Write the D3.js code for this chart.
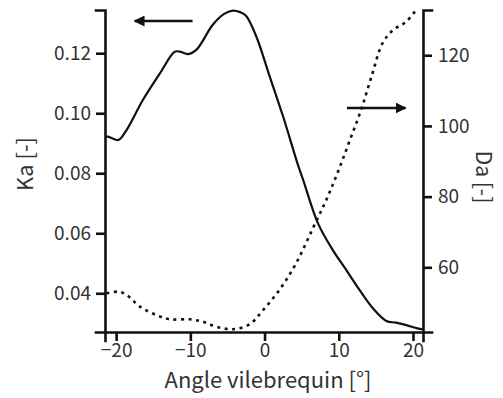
<!DOCTYPE html>
<html>
<head>
<meta charset="utf-8">
<script src="https://cdn.jsdelivr.net/npm/d3@7"></script>
<style>
  body { margin: 0; background: #fff; }
  svg text { font-family: "Noto Sans CJK JP", "Noto Sans", sans-serif; fill: #333; }
  .axis path, .axis line { stroke: #111; stroke-width: 2.6px; }
</style>
</head>
<body>
<div id="chart"></div>
<script>
// crank angle [deg]
const kaAngle = [-21.5, -21.1, -19.7, -18.6, -16.4, -14.1, -12.1, -11.4, -10.3, -9.2, -7.0, -5.5, -4.3, -3.3, -2.5, -1.1, 0.7, 2.5, 4.5, 5.2, 7.2, 9.2, 11.0, 12.8, 14.6, 16.4, 17.7, 19.1, 20.6, 21.3];
const kaValue = [0.0922, 0.0922, 0.0911, 0.0944, 0.1044, 0.1133, 0.1205, 0.1205, 0.1197, 0.1211, 0.1294, 0.1330, 0.1342, 0.1337, 0.1325, 0.1255, 0.1122, 0.0989, 0.0828, 0.0778, 0.0633, 0.0544, 0.0478, 0.0411, 0.0350, 0.0308, 0.0302, 0.0294, 0.0283, 0.0280];

const daAngle = [-21.3, -19.7, -18.6, -16.8, -14.6, -12.8, -10.1, -8.3, -6.5, -4.26, -2.0, -0.2, 2.0, 4.24, 6.5, 8.3, 9.9, 11.5, 13.0, 14.4, 15.9, 17.3, 19.1, 20.4];
const daValue = [52.6, 53.1, 52.2, 48.9, 46.5, 45.3, 45.3, 44.6, 43.2, 42.5, 43.9, 47.9, 53.6, 61.1, 71.0, 79.0, 87.1, 96.0, 104.5, 113.9, 123.4, 127.1, 129.5, 132.8];

const xTicks = [-20, -10, 0, 10, 20];
const kaTicks = [0.04, 0.06, 0.08, 0.10, 0.12];
const daTicks = [60, 80, 100, 120];

const width = 503, height = 398;
const margin = { top: 10, right: 80, bottom: 66, left: 105 };

const svg = d3.select("#chart").append("svg")
    .attr("width", width)
    .attr("height", height);

const x = d3.scaleLinear().domain([-21.5, 21.35]).range([margin.left, width - margin.right]);
const yKa = d3.scaleLinear().domain([0.0271, 0.1344]).range([height - margin.bottom, margin.top]);
const yDa = d3.scaleLinear().domain([41.7, 132.8]).range([height - margin.bottom, margin.top]);

// axes
svg.append("g").classed("axis", true)
    .attr("transform", `translate(0,${height - margin.bottom})`)
    .call(d3.axisBottom(x).tickValues(xTicks).tickSizeOuter(0).tickSize(9).tickPadding(3).tickFormat(d3.format("d")));
svg.append("g").classed("axis", true)
    .attr("transform", `translate(${margin.left},0)`)
    .call(d3.axisLeft(yKa).tickValues(kaTicks).tickSizeOuter(0).tickSize(9).tickPadding(5).tickFormat(d3.format(".2f")));
svg.append("g").classed("axis", true)
    .attr("transform", `translate(${width - margin.right},0)`)
    .call(d3.axisRight(yDa).tickValues(daTicks).tickSizeOuter(0).tickSize(9).tickPadding(6).tickFormat(d3.format("d")));

svg.selectAll(".axis text").attr("font-size", 19).style("fill", "#333");
svg.selectAll(".axis path").attr("stroke-linecap", "square");

// axis titles
svg.append("text")
    .attr("x", 268).attr("y", 388)
    .attr("text-anchor", "middle")
    .attr("font-size", 22)
    .text("Angle vilebrequin [°]");
svg.append("text")
    .attr("transform", "translate(33,164) rotate(-90)")
    .attr("text-anchor", "middle")
    .attr("font-size", 22)
    .text("Ka [-]");
svg.append("text")
    .attr("transform", "translate(476,177) rotate(90)")
    .attr("text-anchor", "middle")
    .attr("font-size", 21)
    .text("Da [-]");

// curves
const kaLine = d3.line()
    .x((d, i) => x(kaAngle[i]))
    .y(d => yKa(d))
    .curve(d3.curveCatmullRom);
const daLine = d3.line()
    .x((d, i) => x(daAngle[i]))
    .y(d => yDa(d))
    .curve(d3.curveCatmullRom);

svg.append("path")
    .attr("d", kaLine(kaValue))
    .attr("fill", "none")
    .attr("stroke", "#111")
    .attr("stroke-width", 2.2);
svg.append("path")
    .attr("d", daLine(daValue))
    .attr("fill", "none")
    .attr("stroke", "#111")
    .attr("stroke-width", 2.6)
    .attr("stroke-dasharray", "3,4.5");

// arrows telling which axis each curve uses
svg.append("defs").append("marker")
    .attr("id", "head")
    .attr("viewBox", "0 0 10 10")
    .attr("refX", 9).attr("refY", 5)
    .attr("markerWidth", 11).attr("markerHeight", 11)
    .attr("markerUnits", "userSpaceOnUse")
    .attr("orient", "auto")
    .append("path")
    .attr("d", "M0,0 L10,5 L0,10 Z")
    .attr("fill", "#111");

svg.append("line")
    .attr("x1", x(-9.7)).attr("y1", 21)
    .attr("x2", x(-17.5)).attr("y2", 21)
    .attr("stroke", "#111").attr("stroke-width", 2.4)
    .attr("marker-end", "url(#head)");
svg.append("line")
    .attr("x1", x(11.1)).attr("y1", 108)
    .attr("x2", x(19.0)).attr("y2", 108)
    .attr("stroke", "#111").attr("stroke-width", 2.4)
    .attr("marker-end", "url(#head)");
</script>
</body>
</html>
